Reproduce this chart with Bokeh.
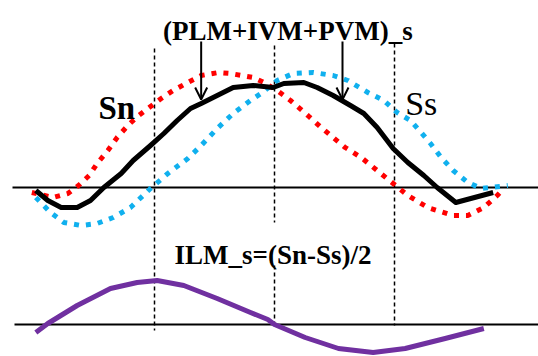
from bokeh.plotting import figure
from bokeh.models import Range1d, Label, Arrow, OpenHead
from bokeh.embed import file_html
from bokeh.resources import INLINE

# ---- data (phase in degrees, amplitude in arbitrary units) ----
sn_phase = [-2, 14, 25, 33, 41, 47, 55, 62, 70, 78, 86, 95, 104, 115, 125, 138, 147,
            164, 172, 182, 192, 205, 215, 224, 233, 245, 257, 269, 280, 295, 314, 325,
            337, 347, 352]
sn_vals = [-0.05, -0.10, -0.06, 0.02, 0.12, 0.24, 0.37, 0.50, 0.62, 0.72, 0.80, 0.89,
           0.97, 1.05, 1.12, 1.15, 1.14, 1.10, 1.05, 0.97, 0.87, 0.72, 0.60, 0.50, 0.40,
           0.30, 0.17, 0.04, -0.08, -0.20, -0.28, -0.28, -0.20, -0.08, -0.01]

ss_phase = [1, 12, 22, 35, 47, 59, 72, 87, 100, 115, 125, 137, 149, 162, 171, 182, 194,
            209, 224, 235, 250, 262, 272, 282, 290, 297, 305, 314, 325, 335, 355]
ss_vals = [-0.10, -0.25, -0.35, -0.38, -0.36, -0.30, -0.20, -0.01, 0.14, 0.29, 0.42,
           0.59, 0.74, 0.87, 0.95, 1.07, 1.14, 1.15, 1.12, 1.07, 0.95, 0.87, 0.75, 0.67,
           0.55, 0.44, 0.30, 0.17, 0.05, -0.01, 0.02]

sum_phase = [1, 10, 20, 32, 42, 52, 65, 74, 87, 97, 107, 117, 125, 137, 149, 164, 179,
             187, 202, 212, 224, 237, 247, 257, 269, 280, 292, 302, 316, 344]
sum_vals = [-0.03, -0.13, -0.20, -0.20, -0.13, 0.00, 0.14, 0.27, 0.42, 0.54, 0.67, 0.79,
            0.84, 0.92, 1.00, 1.02, 1.00, 1.04, 1.05, 1.00, 0.92, 0.82, 0.74, 0.60, 0.39,
            0.25, 0.12, 0.00, -0.15, -0.05]

ilm_phase = [1, 10, 32, 57, 77, 92, 112, 137, 162, 175, 180, 203, 228, 254, 278, 308, 337]
ilm_vals = [-0.08, 0.01, 0.19, 0.36, 0.42, 0.44, 0.39, 0.26, 0.12, 0.05, 0.00, -0.13,
            -0.24, -0.28, -0.24, -0.14, -0.04]

marker_phases = [90, 180, 270]
arrow_phases = [125, 231]

p = figure(width=538, height=356, x_range=Range1d(-25.5, 378),
           y_range=Range1d(-1.69, 1.87), output_backend="svg",
           toolbar_location=None, min_border=0)
p.extra_y_ranges = {"ilm": Range1d(-0.32, 3.24)}
p.axis.visible = False
p.grid.visible = False
p.outline_line_color = None
p.background_fill_color = "white"

# baselines
p.segment(x0=[-16.5], x1=[378], y0=[0], y1=[0], line_color="black", line_width=2)
p.segment(x0=[-15], x1=[378], y0=[0], y1=[0], line_color="black", line_width=2,
          y_range_name="ilm")

# dashed phase markers
p.segment(x0=[marker_phases[0], marker_phases[2]], x1=[marker_phases[0], marker_phases[2]],
          y0=[1.39, 1.44], y1=[-1.43, -1.38], line_color="black", line_width=1.5,
          line_dash="4 3")
p.segment(x0=[marker_phases[1], marker_phases[1]], x1=[marker_phases[1], marker_phases[1]],
          y0=[1.42, -0.78], y1=[-0.35, -1.38], line_color="black", line_width=1.5,
          line_dash="4 3")

# curves
p.line(sn_phase, sn_vals, line_color="#ff0000", line_width=5, line_dash="5 7")
p.line(ss_phase, ss_vals, line_color="#10b0ee", line_width=5, line_dash="5 7")
p.line(sum_phase, sum_vals, line_color="black", line_width=5, line_join="round")
p.line(ilm_phase, ilm_vals, line_color="#7030a0", line_width=5, y_range_name="ilm",
       line_join="round")

# arrows
for ph in arrow_phases:
    p.add_layout(Arrow(end=OpenHead(size=12, line_width=2, line_color="black"),
                       x_start=ph, y_start=1.46, x_end=ph, y_end=0.88,
                       line_color="black", line_width=2))

font = "Liberation Serif"
p.add_layout(Label(x=190, y=1.57, text="(PLM+IVM+PVM)_s", text_font=font,
                   text_font_style="bold", text_font_size="27px", text_align="center",
                   text_baseline="alphabetic", text_color="black"))
p.add_layout(Label(x=48, y=0.80, text="Sn", text_font=font, text_font_style="bold",
                   text_font_size="33px", text_baseline="alphabetic", text_color="black"))
p.add_layout(Label(x=278, y=0.84, text="Ss", text_font=font, text_font_style="normal",
                   text_font_size="34px", text_baseline="alphabetic", text_color="black"))
p.add_layout(Label(x=105, y=-0.67, text="ILM_s=(Sn-Ss)/2", text_font=font,
                   text_font_style="bold", text_font_size="27px",
                   text_baseline="alphabetic", text_color="black"))

open("out.html", "w").write(file_html(p, INLINE))
